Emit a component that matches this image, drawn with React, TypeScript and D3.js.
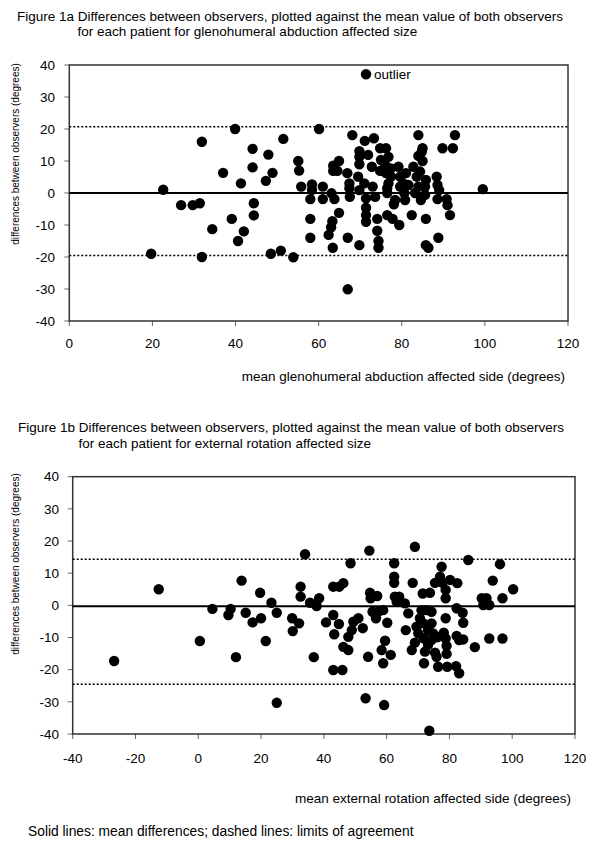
import React from "react";
import * as d3 from "d3";

// ---------- data ----------
const yTicks = [-40, -30, -20, -10, 0, 10, 20, 30, 40];
const xTicksA = [0, 20, 40, 60, 80, 100, 120];
const xTicksB = [-40, -20, 0, 20, 40, 60, 80, 100, 120];

const titleA1 = "Figure 1a Differences between observers, plotted against the mean value of both observers";
const titleA2 = "for each patient for glenohumeral abduction affected size";
const titleB1 = "Figure 1b Differences between observers, plotted against the mean value of both observers";
const titleB2 = "for each patient for external rotation affected size";
const xTitleA = "mean glenohumeral abduction affected side (degrees)";
const xTitleB = "mean external rotation affected side (degrees)";
const yTitle = "differences between observers (degrees)";
const footnote = "Solid lines: mean differences; dashed lines: limits of agreement";

// [mean, difference]
const abductionPoints: [number, number][] = [
  [19.7, -19], [22.6, 1], [26.9, -3.8], [29.7, -3.8], [31.4, -3.2], [31.9, 16], [31.9, -20], [34.4, -11.3],
  [37, 6.3], [39.1, -8.1], [39.9, 20], [40.6, -15], [41.3, 3], [42, -12], [44.1, 13.8], [44.1, 8],
  [44.4, -3.2], [44.4, -7], [47.3, 3.8], [47.9, 12], [48.9, 6.3], [48.5, -19], [50.9, -18], [51.5, 16.9],
  [53.9, -20.1], [55.1, 10], [55.3, 7], [55.8, 2], [58, -8.1], [58, -14], [58, -1.9], [58.4, 2.7],
  [58.4, 1], [60.1, 20], [61, 2], [61, -1.9], [63.1, -0.1], [63.3, -8.8], [63, -10.7], [62.4, -13.1],
  [63.4, -17.1], [63.5, 8.5], [63.5, 6.9], [64.9, 10], [64.5, 6.9], [64.9, -6.2], [63.8, -1.9], [66.9, 6.2],
  [67, -14], [67, -30.1], [67.4, 3], [67.4, 1.5], [67.5, -1.2], [68.1, 18.1], [69.5, 5.1], [69.8, -16.3],
  [69.8, 13.1], [69.8, 11.3], [69.8, 9], [69.8, 0.9], [71, 3], [71.1, 16.3], [71.4, -1.7], [71.4, -4.6],
  [71.4, -6.9], [71.4, -9], [71.9, 11.9], [73, 2], [72.8, 8.2], [73.3, 17.1], [73.6, -1.2], [74.1, -8.1],
  [74.1, -11.8], [74.4, -15], [74.4, -17.1], [74.8, 14], [74.8, 6.9], [75, 10.3], [76.2, 14], [76, 8.8],
  [76.2, 6.2], [76.8, 11.3], [76.8, 3], [76.5, 1.5], [76.5, 0], [76.5, -6.9], [77.8, -8.1], [78.1, -3.5],
  [78.4, -2.2], [77.4, 7.7], [77.4, 5.1], [79.2, 8.2], [79.4, -10], [79.6, 5.1], [79.6, 2], [80.4, 3],
  [80.6, 0], [80.8, -2.2], [81, 6.2], [81.6, 2.5], [82.4, -6.9], [82.8, 8.2], [83.2, 0], [83.6, 5.1],
  [84, 18.1], [84, 2], [84.4, 6.7], [84.6, -2.2], [84.8, 12.9], [85, 14], [85, 10], [84, 11.6],
  [85.6, 2], [85.8, 4.1], [85.6, -0.6], [85.8, -8.1], [85.8, -16.3], [86.4, -17.1], [88.4, 5.1], [88.6, 2.5],
  [89, 0.9], [88.6, -1.9], [88.8, -14], [89.8, 14], [90.8, -1.9], [91, -3.8], [91.6, -6.9], [92.3, 14],
  [92.8, 18.1], [99.5, 1.2],
];
const abductionOutlier: [number, number] = [71.4, 37.1];
const abductionMeanDiff = 0;
const abductionLimits = [20.7, -19.5];

const rotationPoints: [number, number][] = [
  [-26.8, -17.3], [-12.6, 5], [0.5, -11.1], [4.5, -1.1], [9.6, -3], [10.3, -1.1], [12, -16.1], [13.8, 7.7],
  [15.1, -2.3], [17.3, -5.3], [19.7, 3.9], [20, -4], [21.5, -11.1], [23.3, 0.8], [25, -2.3], [25, -30.3],
  [29.9, -4], [30.1, -8], [32.1, -5.6], [32.6, 5.8], [32.6, 2.7], [34, 15.9], [35.6, 0.8], [36.8, -16.1],
  [37.7, -0.2], [38.5, 2.2], [40.7, -5.3], [43, -3], [43.3, -9], [44.8, -5.8], [43, 5.8], [44.9, 5.8],
  [46.2, 6.9], [43, -20.1], [45.9, -20.1], [46.2, -12.9], [47.8, -13.9], [47.8, -9.8], [48.9, -7.7], [49.4, -5.1],
  [51, -4], [52.4, -7.1], [48.5, 13.1], [53.3, -28.9], [54.1, -16], [54.5, 17], [54.7, 3.9], [54.9, 2.2],
  [57, 2.9], [55.5, -2], [56.6, -4], [57.3, -2], [58.9, -1.5], [60.2, -5.4], [59.2, -31], [58.9, -18],
  [58.4, -13.9], [59.5, -11], [61.3, -15.4], [62.4, 13.1], [62.4, 8.9], [62.4, 7], [62.6, 2.7], [63.2, 1.1],
  [64, 2.7], [65.8, 0.6], [66.1, -7.7], [66.9, -2.5], [68.3, 7], [68, -13.9], [69, 18.2], [69, -11.6],
  [69.5, -6.6], [70.1, -8.7], [70.6, -4], [71.1, -1.5], [71.5, 3.7], [71.7, -5.6], [71.9, -10.3], [71.9, -18],
  [72.2, -14.4], [72.7, -1.5], [73.2, -7.7], [73.2, -12.3], [73.6, -39], [73.8, 3.9], [74.3, -2], [74.3, -5.6],
  [74.3, -10.8], [74.8, -8.7], [75.4, -14.7], [75.4, 7], [75.9, -16], [76.4, -19.1], [76.2, -9.9], [77.5, 12],
  [77, 8.9], [77.8, 7], [78.2, -8.5], [78.8, -4], [78.8, 2.2], [78.8, 4.8], [78.8, -10.3], [79.1, -12.6],
  [79.1, -15.1], [79.3, -19.1], [80.2, 7.9], [82.1, -18.9], [83.1, -21.1], [82.5, 6.9], [82.3, -0.9], [82.3, -9.5],
  [83.1, -10.8], [84.2, -2.3], [84.4, -5.4], [84.4, -10.6], [86, 14.1], [88.1, -13], [90.3, 2.2], [90.8, 0.1],
  [91.8, 2.2], [92.7, 0.1], [92.7, -10.3], [93.8, 7.7], [96.1, 12.8], [96.9, -10.3], [96.9, 2.2], [100.3, 5],
];
const rotationMeanDiff = -0.3;
const rotationLimits = [14.3, -24.5];

const FONT = "Arial, 'Liberation Sans', sans-serif";
const FS = 13.5;

type PanelProps = {
  x: d3.ScaleLinear<number, number>;
  y: d3.ScaleLinear<number, number>;
  xTicks: number[];
  points: [number, number][];
  meanDiff: number;
  limits: number[];
  yLabelRight: number;
  xLabelBaseline: number;
  yTitleX: number;
  yTitleY: number;
  xTitle: string;
  xTitleRight: number;
  xTitleBaseline: number;
  title1: string;
  title2: string;
  t1x: number;
  t2x: number;
  t1y: number;
  t2y: number;
};

function Panel(p: PanelProps) {
  const [x0, x1] = p.x.range();
  const [y0, y1] = p.y.range(); // y0 bottom, y1 top
  return (
    <g fontFamily={FONT} fontSize={FS} fill="#000">
      <text x={p.t1x} y={p.t1y}>{p.title1}</text>
      <text x={p.t2x} y={p.t2y}>{p.title2}</text>
      {yTicks.map((t) => (
        <g key={"y" + t}>
          <line x1={x0 - 5} x2={x0} y1={p.y(t)} y2={p.y(t)} stroke="#666" strokeWidth={1} />
          <text x={p.yLabelRight} y={p.y(t)} dy="0.35em" textAnchor="end">{t}</text>
        </g>
      ))}
      {p.xTicks.map((t) => (
        <g key={"x" + t}>
          <line x1={p.x(t)} x2={p.x(t)} y1={y0} y2={y0 + 5} stroke="#666" strokeWidth={1} />
          <text x={p.x(t)} y={p.xLabelBaseline} textAnchor="middle">{t}</text>
        </g>
      ))}
      <rect x={x0} y={y1} width={x1 - x0} height={y0 - y1} fill="none" stroke="#333" strokeWidth={1.5} />
      {p.limits.map((l, i) => (
        <line key={"l" + i} x1={x0} x2={x1} y1={p.y(l)} y2={p.y(l)} stroke="#000" strokeWidth={1.5} strokeDasharray="2,2" />
      ))}
      <line x1={x0} x2={x1} y1={p.y(p.meanDiff)} y2={p.y(p.meanDiff)} stroke="#000" strokeWidth={2} />
      {p.points.map((d, i) => (
        <circle key={i} cx={p.x(d[0])} cy={p.y(d[1])} r={5.2} fill="#000" />
      ))}
      <text x={p.xTitleRight} y={p.xTitleBaseline} textAnchor="end">{p.xTitle}</text>
      <text transform={`translate(${p.yTitleX},${p.yTitleY}) rotate(-90)`} textAnchor="middle" fontSize={10}>{yTitle}</text>
    </g>
  );
}

export default function App() {
  const xA = d3.scaleLinear().domain([0, 120]).range([69.3, 568]);
  const yA = d3.scaleLinear().domain([-40, 40]).range([321, 65]);
  const xB = d3.scaleLinear().domain([-40, 120]).range([72.7, 575]);
  const yB = d3.scaleLinear().domain([-40, 40]).range([734, 476.7]);
  return (
    <svg width={600} height={849} style={{ position: "absolute", left: 0, top: 0, background: "#fff" }}>
      <rect width={600} height={849} fill="#fff" />
      <Panel x={xA} y={yA} xTicks={xTicksA} points={abductionPoints} meanDiff={abductionMeanDiff} limits={abductionLimits}
        yLabelRight={55} xLabelBaseline={348} yTitleX={18.5} yTitleY={154}
        xTitle={xTitleA} xTitleRight={565} xTitleBaseline={381}
        title1={titleA1} title2={titleA2} t1x={17} t2x={77.5} t1y={20.5} t2y={35.5} />
      <circle cx={xA(abductionOutlier[0])} cy={yA(abductionOutlier[1])} r={5.2} fill="#000" />
      <text x={xA(abductionOutlier[0]) + 8} y={yA(abductionOutlier[1])} dy="0.35em" fontFamily={FONT} fontSize={FS}>outlier</text>
      <Panel x={xB} y={yB} xTicks={xTicksB} points={rotationPoints} meanDiff={rotationMeanDiff} limits={rotationLimits}
        yLabelRight={59} xLabelBaseline={763} yTitleX={18.5} yTitleY={564}
        xTitle={xTitleB} xTitleRight={571} xTitleBaseline={803}
        title1={titleB1} title2={titleB2} t1x={18} t2x={78.5} t1y={432} t2y={447.5} />
      <text x={28} y={836} fontFamily={FONT} fontSize={13.8}>{footnote}</text>
    </svg>
  );
}
